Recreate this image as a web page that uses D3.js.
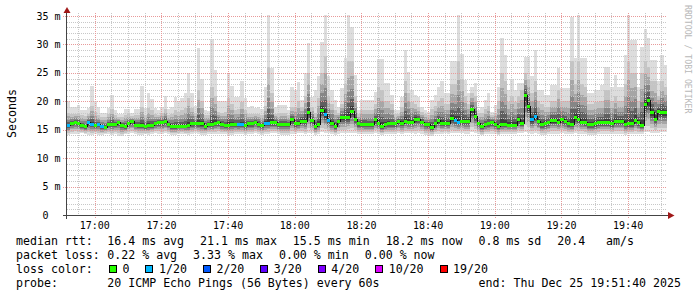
<!DOCTYPE html>
<html>
<head>
<meta charset="utf-8">
<script src="https://cdn.jsdelivr.net/npm/d3@7"></script>
<style>
  body { margin: 0; background: #fff; }
  svg { display: block; font-family: "DejaVu Sans Mono", monospace; }
  text { white-space: pre; }
</style>
</head>
<body>
<svg id="chart" width="697" height="297"></svg>
<script>
// one value per 60 s step, 16:51:40 -> 19:51:40
var medianRtt = [
  15.8,16.2,16.4,16.2,15.8,15.6,16.3,16.0,15.8,16.0, 15.7,15.5,16.0,16.0,16.0,16.4,15.8,15.6,16.2,16.5,
  15.9,15.9,15.9,15.6,15.8,15.8,16.1,16.3,16.3,16.5, 16.0,15.7,15.7,15.7,15.7,15.7,15.8,16.1,16.1,16.1,
  16.1,15.6,16.0,16.0,16.2,16.3,16.0,15.8,15.8,16.0, 16.0,16.0,16.0,15.8,16.1,16.1,16.4,16.0,15.8,16.2,
  16.2,16.3,16.3,16.0,16.0,16.0,16.0,16.8,16.1,16.1, 16.6,16.6,18.2,16.7,15.7,16.0,18.5,17.7,16.7,16.2,
  15.7,16.6,17.2,17.2,17.2,18.3,16.9,16.1,16.0,16.0, 15.95,15.95,16.8,16.2,15.7,15.95,16.1,16.1,16.1,16.5,
  16.2,16.6,16.4,16.4,16.9,16.9,16.4,15.95,15.95,15.5, 16.1,16.65,16.2,16.2,16.2,17.0,16.7,16.4,16.5,16.5,
  16.5,18.6,17.4,16.2,15.65,15.95,16.1,16.35,15.95,15.65, 16.0,16.0,15.9,15.9,15.9,16.8,16.2,21.1,19.2,16.9,
  17.5,16.6,15.95,16.2,16.3,16.7,16.7,16.4,16.8,16.5, 16.1,15.95,17.3,16.9,16.4,16.4,15.95,15.95,16.1,16.35,
  16.35,16.35,16.35,16.1,16.6,16.6,16.6,15.95,16.1,16.1, 16.7,16.35,15.8,19.5,20.2,18.1,16.9,18.35,18.1,18.1
];
var maxRtt = [
  20.1,19.05,19.05,19.35,18.5,18.5,18.9,22.7,20.1,19.05, 17.9,17.9,18.9,21.1,18.5,17.8,17.8,18.65,18.65,17.9,
  18.65,18.6,22.65,18.75,21.5,20.35,18.75,18.5,19.05,20.9, 18.6,19.05,20.7,20.1,20.5,21.5,24.9,21.5,19.2,29.3,
  23.9,18.5,18.35,30.9,25.5,20.1,20.1,20.1,24.9,22.65, 20.7,20.7,23.6,20.5,19.0,19.2,18.8,19.0,18.7,22.5,
  35.2,25.8,19.0,19.3,19.3,19.3,18.5,22.5,22.0,23.4, 20.2,24.9,30.2,20.8,22.0,24.4,30.5,35.2,24.4,22.0,
  20.2,19.0,22.3,27.6,35.2,33.1,24.6,18.5,20.2,20.2, 20.2,20.2,21.7,27.5,27.5,23.2,23.2,21.1,18.5,18.5,
  20.8,29.0,25.2,22.0,21.1,20.7,19.05,18.5,18.2,20.2, 21.1,22.6,23.5,21.4,21.4,27.0,27.0,35.2,28.4,23.8,
  21.4,22.6,23.2,18.5,19.05,20.2,21.4,18.2,19.35,22.6, 31.1,28.1,22.0,24.0,22.0,23.2,23.2,27.8,27.8,24.4,
  29.0,22.0,22.0,21.1,21.1,22.9,22.9,25.8,22.3,22.3, 22.3,34.9,27.6,35.2,27.6,27.6,21.4,21.4,22.0,22.0,
  22.9,26.1,26.1,22.6,24.6,22.6,22.6,28.1,35.2,30.8, 30.8,22.6,29.6,32.8,31.1,27.3,27.3,23.5,28.1,26.4
];
// top of the darker smoke
var upperRtt = [
  18.0,17.8,17.8,17.9,17.6,17.5,17.8,19.2,18.2,17.6, 17.2,17.2,17.7,18.6,17.6,17.2,17.2,17.6,17.8,17.4,
  17.6,17.6,19.0,17.6,18.8,18.4,17.8,17.6,17.9,18.6, 17.6,17.8,18.4,18.2,18.4,18.8,20.5,18.9,18.0,22.0,
  20.0,17.6,17.6,22.5,21.0,18.2,18.0,18.2,20.5,19.5, 18.5,18.6,19.8,18.5,17.8,17.8,17.8,17.8,17.6,19.2,
  26.0,21.5,17.8,17.8,18.0,18.0,17.6,19.0,19.0,20.0, 19.0,21.0,25.0,19.0,18.0,20.5,25.0,28.0,21.0,19.5,
  18.5,18.0,19.5,23.0,27.0,27.0,21.0,17.8,18.5,18.5, 18.5,18.5,19.5,22.5,22.0,20.0,20.0,19.5,17.8,17.8,
  19.0,23.5,21.5,19.8,19.5,19.0,18.2,17.8,17.6,18.6, 19.2,20.0,20.5,19.5,19.5,23.0,23.0,27.0,24.0,21.0,
  19.5,21.5,21.0,17.8,18.0,18.6,19.2,17.6,18.0,20.0, 25.0,23.5,19.8,21.0,19.8,21.0,22.0,25.0,24.0,21.5,
  23.5,20.0,19.5,19.0,19.0,20.0,20.0,22.0,20.0,20.0, 20.0,27.0,23.0,27.0,23.0,22.5,19.5,19.5,19.8,19.8,
  20.0,22.0,22.0,20.0,21.0,20.0,20.0,23.0,27.0,25.0, 25.0,20.0,25.0,27.0,26.0,23.5,23.5,21.0,23.5,22.5
];
var minRtt = [
  14.0,14.3,14.3,14.3,14.4,14.2,14.1,14.0,14.2,14.1, 14.0,14.2,14.3,14.1,14.3,13.9,13.9,14.2,14.3,14.4,
  14.2,14.0,14.0,14.2,14.1,14.3,14.4,14.3,14.2,14.4, 14.3,14.0,14.0,14.2,14.3,14.2,14.1,14.3,14.4,14.2,
  14.0,14.1,14.3,14.2,14.3,14.3,14.2,14.2,14.0,14.1, 14.3,14.2,14.3,14.0,14.2,14.3,14.4,14.3,14.1,14.2,
  14.3,14.4,14.4,14.2,14.0,14.1,14.0,14.3,14.3,14.4, 14.4,14.2,14.5,14.5,14.0,14.3,14.6,14.5,14.4,14.2,
  14.0,14.3,14.4,14.4,14.5,14.5,14.5,14.2,14.3,14.2, 14.3,14.2,14.4,14.3,14.0,14.2,14.3,14.3,14.3,14.4,
  14.2,14.4,14.4,14.4,14.3,14.4,14.3,14.1,14.0,13.9, 14.2,14.3,14.3,14.4,14.3,14.4,14.4,14.4,14.5,14.3,
  14.3,14.6,14.5,14.2,14.0,14.2,14.3,14.3,14.2,14.0, 14.2,14.3,14.2,14.3,14.3,14.4,14.4,14.6,14.5,14.2,
  14.4,14.3,14.0,14.0,14.2,14.3,14.3,14.3,14.4,14.3, 14.2,14.2,14.4,14.3,14.3,14.2,14.0,14.0,14.1,14.2,
  14.3,14.3,14.3,14.2,14.3,14.3,14.3,14.1,14.2,14.2, 14.3,14.2,14.2,14.6,14.6,14.5,14.4,14.5,14.6,14.6
];
// steps where 1 of 20 pings was lost
var lossSteps = [0, 6, 7, 9, 10, 51, 52, 59, 60, 77, 78, 116, 117, 139, 140];

var lossLabels = ['0', '1/20', '2/20', '3/20', '4/20', '10/20', '19/20'];
var lossColors = ['#26ff00', '#00b8ff', '#0059ff', '#5e00ff', '#7e00ff', '#dd00ff', '#ff0000'];

var rttStats = ['16.4 ms avg', '21.1 ms max', '15.5 ms min', '18.2 ms now', '0.8 ms sd', '20.4   am/s'];
var lossStats = ['0.22 % avg', '3.33 % max', '0.00 % min', '0.00 % now'];
var probeText = '20 ICMP Echo Pings (56 Bytes) every 60s';
var endText = 'end: Thu Dec 25 19:51:40 2025';

var svg = d3.select('#chart');
var t0 = Date.UTC(2025, 11, 25, 16, 51, 40);
var stepMs = 60000;
var n = medianRtt.length;

var x = d3.scaleUtc()
  .domain([new Date(t0), new Date(t0 + n * stepMs)])
  .range([67, 667]);
var y = d3.scaleLinear().domain([0, 35]).range([215, 16]);

function px(v) { return Math.round(v) + 0.5; }
function stepX(i) { return Math.round(x(new Date(t0 + i * stepMs))); }

// smoke: bands from light (full range) to dark (close to median)
var bands = [
  { lo: 0,    hi: null, fill: '#dddddd' },
  { lo: 0.2,  hi: 1.0,  fill: '#c4c4c4' },
  { lo: 0.4,  hi: 0.7,  fill: '#a6a6a6' },
  { lo: 0.55, hi: 0.45, fill: '#868686' },
  { lo: 0.7,  hi: 0.25, fill: '#606060' },
  { lo: 0.82, hi: 0.1,  fill: '#3e3e3e' }
];

var smoke = svg.append('g').attr('shape-rendering', 'crispEdges');
bands.forEach(function (b) {
  smoke.selectAll(null)
    .data(medianRtt)
    .enter().append('rect')
    .attr('x', function (d, i) { return stepX(i); })
    .attr('width', function (d, i) { return stepX(i + 1) - stepX(i); })
    .attr('y', function (d, i) {
      var up = Math.min(upperRtt[i], maxRtt[i]);
      var top = b.hi === null ? maxRtt[i] : d + b.hi * (up - d);
      return Math.round(y(Math.min(top, 35.3)));
    })
    .attr('height', function (d, i) {
      var up = Math.min(upperRtt[i], maxRtt[i]);
      var top = b.hi === null ? maxRtt[i] : d + b.hi * (up - d);
      var bot = minRtt[i] + b.lo * (d - minRtt[i]);
      return Math.max(0, Math.round(y(bot)) - Math.round(y(Math.min(top, 35.3))));
    })
    .attr('fill', b.fill);
});

// grid
var grid = svg.append('g')
  .attr('stroke-dasharray', '1,1')
  .attr('shape-rendering', 'crispEdges');

y.ticks(35).filter(function (v) { return v % 5 !== 0; }).forEach(function (v) {
  grid.append('line')
    .attr('x1', 67).attr('x2', 667)
    .attr('y1', px(y(v))).attr('y2', px(y(v)))
    .attr('stroke', '#c8c8c8');
});
x.ticks(d3.utcMinute.every(5)).filter(function (t) { return t.getUTCMinutes() % 20 !== 0; }).forEach(function (t) {
  grid.append('line')
    .attr('x1', px(x(t))).attr('x2', px(x(t)))
    .attr('y1', 13).attr('y2', 217)
    .attr('stroke', '#c8c8c8');
});
y.ticks(7).filter(function (v) { return v > 0; }).forEach(function (v) {
  grid.append('line')
    .attr('x1', 63).attr('x2', 667)
    .attr('y1', px(y(v))).attr('y2', px(y(v)))
    .attr('stroke', '#e89a9a');
});
x.ticks(d3.utcMinute.every(20)).forEach(function (t) {
  grid.append('line')
    .attr('x1', px(x(t))).attr('x2', px(x(t)))
    .attr('y1', 13).attr('y2', 219)
    .attr('stroke', '#e89a9a');
});

// median line: dark step line, coloured segments on top
var stepPts = medianRtt.map(function (d, i) { return [stepX(i), px(y(d))]; });
stepPts.push([stepX(n), px(y(medianRtt[n - 1]))]);
svg.append('path')
  .attr('d', d3.line().curve(d3.curveStepAfter)(stepPts))
  .attr('fill', 'none')
  .attr('stroke', '#111')
  .attr('stroke-width', 1)
  .attr('shape-rendering', 'crispEdges');

svg.append('g').attr('shape-rendering', 'crispEdges')
  .selectAll('rect')
  .data(medianRtt)
  .enter().append('rect')
  .attr('x', function (d, i) { return stepX(i); })
  .attr('width', function (d, i) { return stepX(i + 1) - stepX(i); })
  .attr('y', function (d) { return Math.round(y(d)) - 1; })
  .attr('height', 3)
  .attr('fill', function (d, i) { return lossSteps.indexOf(i) >= 0 ? lossColors[1] : lossColors[0]; });

// axes
svg.append('line').attr('x1', 66.5).attr('x2', 66.5).attr('y1', 10).attr('y2', 219)
  .attr('stroke', '#444').attr('shape-rendering', 'crispEdges');
svg.append('line').attr('x1', 63).attr('x2', 670).attr('y1', 215.5).attr('y2', 215.5)
  .attr('stroke', '#444').attr('shape-rendering', 'crispEdges');
svg.append('path').attr('d', 'M63.5,13L70.5,13L67,7Z').attr('fill', '#a01818');
svg.append('path').attr('d', 'M668,212L668,219L674.5,215.5Z').attr('fill', '#a01818');

// tick labels
svg.append('g').selectAll('text')
  .data(y.ticks(7))
  .enter().append('text')
  .attr('x', 60.5)
  .attr('y', function (d) { return y(d) + 3.5; })
  .attr('text-anchor', 'end')
  .attr('font-size', 10)
  .text(function (d) { return d ? d + ' m' : '0  '; });

svg.append('g').selectAll('text')
  .data(x.ticks(d3.utcMinute.every(20)))
  .enter().append('text')
  .attr('x', function (d) { return x(d); })
  .attr('y', 229)
  .attr('text-anchor', 'middle')
  .attr('font-size', 10)
  .text(d3.utcFormat('%H:%M'));

svg.append('text')
  .attr('transform', 'translate(15.5,113.5) rotate(-90)')
  .attr('text-anchor', 'middle')
  .attr('font-size', 11.6)
  .text('Seconds');

svg.append('text')
  .attr('transform', 'translate(685,5) rotate(90)')
  .attr('font-size', 8.2)
  .attr('fill', '#b8b8b8')
  .text('RRDTOOL / TOBI OETIKER');

// legend
var legendSize = 11.6;
var col2 = 107.3;
var gap = 16;

function legendRow(label, items, baseY) {
  svg.append('text').attr('x', 16).attr('y', baseY).attr('font-size', legendSize).text(label);
  var cx = col2;
  items.forEach(function (s) {
    var t = svg.append('text').attr('x', cx).attr('y', baseY).attr('font-size', legendSize).text(s);
    cx += t.node().getComputedTextLength() + gap;
  });
}

legendRow('median rtt:', rttStats, 245);
legendRow('packet loss:', lossStats, 259);

svg.append('text').attr('x', 16).attr('y', 273).attr('font-size', legendSize).text('loss color:');
var bx = 109;
lossLabels.forEach(function (s, i) {
  svg.append('rect')
    .attr('x', bx + 0.5).attr('y', 265.5)
    .attr('width', 7).attr('height', 7)
    .attr('fill', lossColors[i])
    .attr('stroke', '#000')
    .attr('shape-rendering', 'crispEdges');
  var t = svg.append('text').attr('x', bx + 13.5).attr('y', 273).attr('font-size', legendSize).text(s);
  bx += 13.5 + t.node().getComputedTextLength() + gap;
});

svg.append('text').attr('x', 16).attr('y', 287).attr('font-size', legendSize).text('probe:');
svg.append('text').attr('x', col2).attr('y', 287).attr('font-size', legendSize).text(probeText);
svg.append('text').attr('x', 681).attr('y', 287).attr('text-anchor', 'end').attr('font-size', legendSize).text(endText);
</script>
</body>
</html>
